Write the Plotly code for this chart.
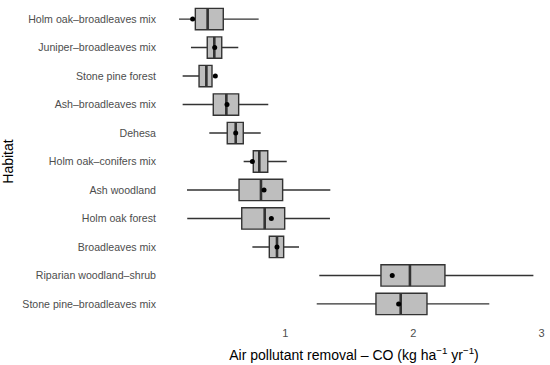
import plotly.graph_objects as go

habitats = ["Holm oak–broadleaves mix", "Juniper–broadleaves mix", "Stone pine forest",
            "Ash–broadleaves mix", "Dehesa", "Holm oak–conifers mix", "Ash woodland",
            "Holm oak forest", "Broadleaves mix", "Riparian woodland–shrub",
            "Stone pine–broadleaves mix"]
lower = [0.172, 0.265, 0.200, 0.200, 0.408, 0.676, 0.234, 0.236, 0.744, 1.266, 1.246]
q1 =    [0.299, 0.392, 0.328, 0.439, 0.548, 0.751, 0.640, 0.661, 0.876, 1.747, 1.708]
median = [0.395, 0.447, 0.385, 0.541, 0.614, 0.798, 0.811, 0.840, 0.936, 1.973, 1.901]
q3 =    [0.517, 0.505, 0.429, 0.637, 0.673, 0.864, 0.980, 0.996, 0.988, 2.246, 2.106]
upper = [0.793, 0.634, 0.432, 0.868, 0.809, 1.012, 1.352, 1.349, 1.108, 2.936, 2.592]
mean =  [0.278, 0.450, 0.455, 0.546, 0.614, 0.744, 0.835, 0.892, 0.936, 1.835, 1.885]

pos = list(range(1, len(habitats) + 1))
box_w = 0.75

fig = go.Figure()
fig.add_trace(go.Box(
    y=pos, q1=q1, median=median, q3=q3, lowerfence=lower, upperfence=upper,
    orientation="h", width=box_w, whiskerwidth=0,
    fillcolor="#BEBEBE", line=dict(color="#333333", width=1.4),
    boxpoints=False, showlegend=False, hoverinfo="skip"))

# thicker median lines
mx, my = [], []
for p, m in zip(pos, median):
    mx += [m, m, None]
    my += [p - box_w / 2, p + box_w / 2, None]
fig.add_trace(go.Scatter(x=mx, y=my, mode="lines",
                         line=dict(color="#333333", width=2.6),
                         showlegend=False, hoverinfo="skip"))

fig.add_trace(go.Scatter(x=mean, y=pos, mode="markers",
                         marker=dict(color="black", size=5),
                         showlegend=False, hoverinfo="skip"))

fig.update_layout(
    width=550, height=365,
    margin=dict(l=160, r=2, t=2, b=44),
    paper_bgcolor="white", plot_bgcolor="white",
    font=dict(family="Liberation Sans, Arial, sans-serif"),
    xaxis=dict(range=[0.0234, 3.05], tickvals=[1, 2, 3], ticktext=["1", "2", "3"],
               showgrid=False, zeroline=False, showline=False, ticks="", ticklen=0,
               automargin=False, ticklabelstandoff=4,
               tickfont=dict(size=11, color="#4D4D4D"),
               title=dict(text="Air pollutant removal – CO (kg ha<sup>−1</sup> yr<sup>−1</sup>)",
                          font=dict(size=14, color="black"), standoff=12)),
    yaxis=dict(range=[11.6, 0.4], tickvals=pos, ticktext=habitats,
               showgrid=False, zeroline=False, showline=False, ticks="", ticklen=0,
               automargin=False, ticklabelstandoff=3,
               tickfont=dict(size=10.6, color="#4D4D4D"),
               title=dict(text="Habitat", font=dict(size=14, color="black"), standoff=8)),
)

fig.write_html("out.html", config={"displayModeBar": False},
               post_script="document.body.style.margin='0';document.body.style.overflow='hidden';")
